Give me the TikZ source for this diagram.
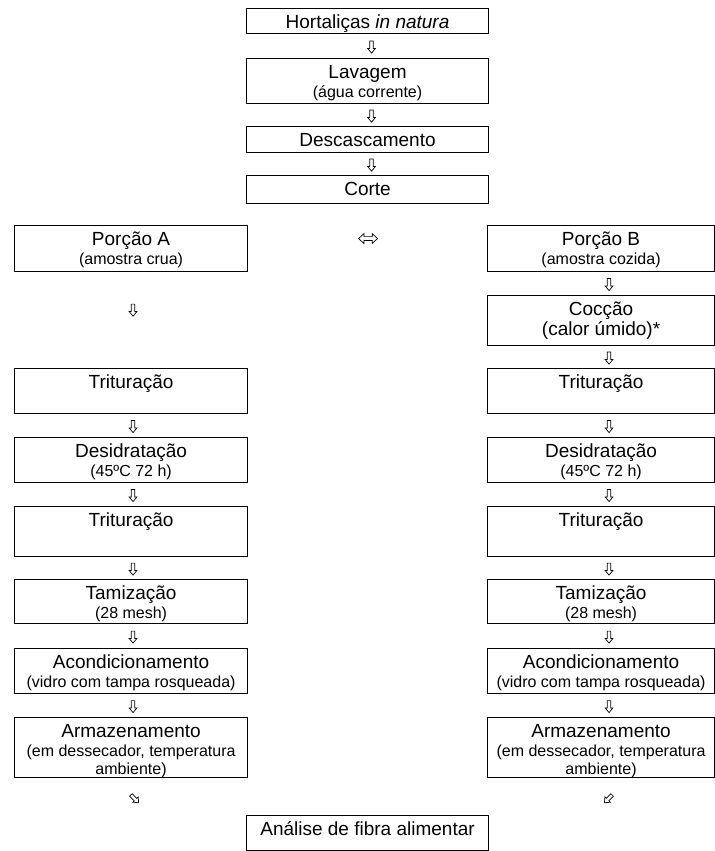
\documentclass[tikz,border=0pt]{standalone}
\usepackage{fontspec}
\setmainfont{Liberation Sans}
\usetikzlibrary{shapes.arrows,calc}
\newcommand\mainsz{\fontsize{19bp}{18.5bp}\selectfont}
\newcommand\subsz{\fontsize{16bp}{18.5bp}\selectfont}
\tikzset{
  boxst/.style={draw, line width=1.1bp, inner sep=0pt, anchor=north west},
  arrbase/.style={draw, line width=0.7bp, inner sep=1.4bp, fill=white},
  darr/.style={arrbase, single arrow, minimum height=12bp, single arrow head extend=2.1bp,
               single arrow tip angle=80, rotate=-90},
  diagarr/.style={arrbase, single arrow, minimum height=11bp, single arrow head extend=2bp,
               single arrow tip angle=80},
  lrarr/.style={arrbase, double arrow, minimum height=19bp, inner sep=1.6bp,
               double arrow head extend=3bp, double arrow tip angle=85}
}
\newcommand\bx[6]{\node[boxst] (#1) at (#2,#3)
  {\parbox[t][#5bp][t]{#4bp}{\centering\mainsz\rule{0pt}{20bp}#6}};}
\newcommand\sub[1]{{\subsz #1}}
\begin{document}
\begin{tikzpicture}[x=1bp,y=-1bp]
\useasboundingbox (0,0) rectangle (715,851);
% centre column
\bx{hort}{246}{8}{242}{25}{Hortaliças \textit{in natura}}
\bx{lav}{246}{58}{242}{45}{Lavagem\\\sub{(água corrente)}}
\bx{desc}{246}{126}{242}{26}{Descascamento}
\bx{corte}{246}{175}{242}{28}{Corte}
% left column
\bx{pa}{14}{225}{233}{46}{Porção A\\\sub{(amostra crua)}}
\bx{triLa}{14}{368}{233}{45}{Trituração}
\bx{desL}{14}{437}{233}{45}{Desidratação\\\sub{(45ºC 72 h)}}
\bx{triLb}{14}{506}{233}{50}{Trituração}
\bx{tamL}{14}{579}{233}{44}{Tamização\\\sub{(28 mesh)}}
\bx{acoL}{14}{648}{233}{45}{Acondicionamento\\\sub{(vidro com tampa rosqueada)}}
\bx{armL}{14}{717}{233}{60}{Armazenamento\\\sub{(em dessecador, temperatura}\\\sub{ambiente)}}
% right column
\bx{pb}{487}{225}{227}{46}{Porção B\\\sub{(amostra cozida)}}
\bx{coc}{487}{295}{227}{50}{Cocção\\[1bp](calor úmido)*}
\bx{triRa}{487}{368}{227}{45}{Trituração}
\bx{desR}{487}{437}{227}{45}{Desidratação\\\sub{(45ºC 72 h)}}
\bx{triRb}{487}{506}{227}{50}{Trituração}
\bx{tamR}{487}{579}{227}{44}{Tamização\\\sub{(28 mesh)}}
\bx{acoR}{487}{648}{227}{45}{Acondicionamento\\\sub{(vidro com tampa rosqueada)}}
\bx{armR}{487}{717}{227}{60}{Armazenamento\\\sub{(em dessecador, temperatura}\\\sub{ambiente)}}
% final box
\bx{ana}{246}{815}{242}{35}{Análise de fibra alimentar}
% arrows, centre
\node[darr] (c1) at ($(hort.south)!0.5!(lav.north)+(4,0)$) {};
\node[darr] (c2) at ($(lav.south)!0.5!(desc.north)+(4,0)$) {};
\node[darr] (c3) at ($(desc.south)!0.5!(corte.north)+(4,0)$) {};
% left-right arrow
\node[lrarr] (lr) at ($(pa.east)!0.5!(pb.west)+(0.5,-10)$) {};
% left column arrows
\node[darr] (l1) at ($(pa.south)+(2,37)$) {};
\node[darr] (l2) at ($(triLa.south)!0.5!(desL.north)+(2,0)$) {};
\node[darr] (l3) at ($(desL.south)!0.5!(triLb.north)+(2,0)$) {};
\node[darr] (l4) at ($(triLb.south)!0.5!(tamL.north)+(2,0)$) {};
\node[darr] (l5) at ($(tamL.south)!0.5!(acoL.north)+(2,0)$) {};
\node[darr] (l6) at ($(acoL.south)!0.5!(armL.north)+(2,0)$) {};
% right column arrows
\node[darr] (r1) at ($(pb.south)!0.5!(coc.north)+(8,0)$) {};
\node[darr] (r2) at ($(coc.south)!0.5!(triRa.north)+(8,0)$) {};
\node[darr] (r3) at ($(triRa.south)!0.5!(desR.north)+(8,0)$) {};
\node[darr] (r4) at ($(desR.south)!0.5!(triRb.north)+(8,0)$) {};
\node[darr] (r5) at ($(triRb.south)!0.5!(tamR.north)+(8,0)$) {};
\node[darr] (r6) at ($(tamR.south)!0.5!(acoR.north)+(8,0)$) {};
\node[darr] (r7) at ($(acoR.south)!0.5!(armR.north)+(8,0)$) {};
% diagonal arrows
\node[diagarr, rotate=-45] (dl) at ($(armL.south)+(3,20)$) {};
\node[diagarr, rotate=-135] (dr) at ($(armR.south)+(8,20)$) {};
\end{tikzpicture}
\end{document}
